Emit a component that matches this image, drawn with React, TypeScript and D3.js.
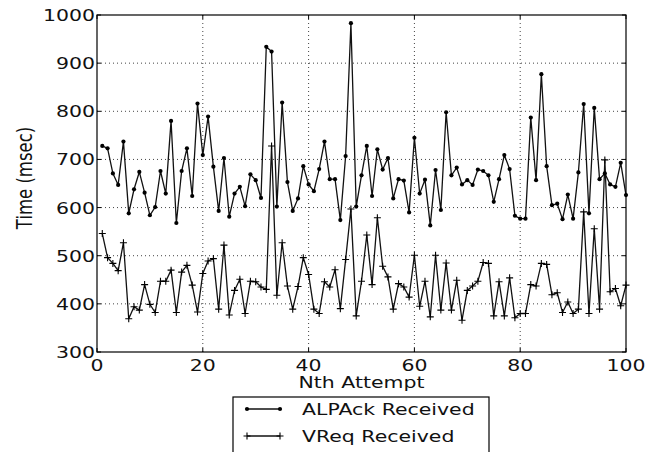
import React from 'react';
import * as d3 from 'd3';

const alpack = [
  728, 723, 671, 647, 737, 588, 638, 674, 631, 584,
  601, 676, 629, 780, 568, 676, 723, 624, 816, 709,
  789, 685, 593, 703, 581, 629, 643, 603, 669, 657,
  620, 934, 924, 602, 818, 653, 593, 619, 686, 648,
  634, 680, 737, 659, 659, 574, 707, 983, 602, 667,
  728, 624, 721, 679, 703, 619, 659, 656, 590, 745,
  629, 658, 563, 678, 595, 798, 667, 683, 648, 657,
  647, 679, 676, 667, 612, 659, 709, 680, 583, 577,
  577, 787, 657, 877, 686, 605, 608, 576, 627, 577,
  673, 815, 588, 807, 659, 671, 648, 643, 693, 626,
];

const vreq = [
  546, 496, 484, 469, 527, 369, 394, 387, 440, 399,
  382, 447, 447, 470, 382, 466, 480, 439, 383, 463,
  489, 494, 389, 522, 377, 428, 451, 380, 447, 446,
  435, 430, 728, 418, 527, 437, 389, 436, 496, 461,
  389, 380, 446, 435, 471, 390, 492, 597, 375, 447,
  543, 440, 579, 478, 456, 389, 442, 435, 414, 501,
  395, 447, 373, 501, 387, 485, 387, 449, 366, 428,
  437, 447, 486, 484, 375, 446, 375, 454, 371, 380,
  380, 440, 437, 484, 482, 419, 423, 382, 404, 380,
  389, 591, 380, 556, 389, 699, 425, 432, 396, 439,
];

const xTicks = [0, 20, 40, 60, 80, 100];
const yTicks = [300, 400, 500, 600, 700, 800, 900, 1000];
const seriesNames = ['ALPAck Received', 'VReq Received'];

const W = 650;
const H = 452;
const left = 97;
const right = 626;
const top = 15;
const bottom = 352;
const FONT = 'DejaVu Sans';
const FS = 16.5;
const SX = 1.24; // the reference is stretched horizontally

const x = d3.scaleLinear().domain([0, 100]).range([left, right]);
const y = d3.scaleLinear().domain([300, 1000]).range([bottom, top]);

const line = d3
  .line<number>()
  .x((_, i) => x(i + 1))
  .y((d) => y(d));

// text drawn with the same horizontal stretch as the picture
const Txt = ({ tx, ty, anchor = 'start', children, rotate = 0 }: any) => (
  <g transform={`translate(${tx},${ty}) rotate(${rotate}) scale(${rotate ? 1 : SX},${rotate ? SX : 1})`}>
    <text fontFamily={FONT} fontSize={FS} textAnchor={anchor} fill="#111">
      {children}
    </text>
  </g>
);

const Dot = ({ cx, cy }: any) => <circle cx={cx} cy={cy} r={2.1} fill="#000" />;
const Plus = ({ cx, cy }: any) => (
  <path d={`M${cx - 3.5},${cy}H${cx + 3.5}M${cx},${cy - 3.5}V${cy + 3.5}`} stroke="#000" strokeWidth={1.1} />
);

export default function App() {
  return (
    <svg
      width={W}
      height={H}
      style={{ position: 'absolute', left: 0, top: 0, background: '#fff' }}
    >
      <rect width={W} height={H} fill="#fff" />
      {/* grid */}
      {yTicks.slice(1, -1).map((t) => (
        <line key={'gy' + t} x1={left} x2={right} y1={y(t)} y2={y(t)} stroke="#444" strokeWidth={1} strokeDasharray="1,3" />
      ))}
      {xTicks.slice(1, -1).map((t) => (
        <line key={'gx' + t} x1={x(t)} x2={x(t)} y1={top} y2={bottom} stroke="#444" strokeWidth={1} strokeDasharray="1,3" />
      ))}
      {/* ticks (inward) */}
      {yTicks.map((t) => (
        <g key={'ty' + t}>
          <line x1={left} x2={left + 4} y1={y(t)} y2={y(t)} stroke="#000" />
          <line x1={right - 4} x2={right} y1={y(t)} y2={y(t)} stroke="#000" />
          <Txt tx={left - 2} ty={y(t) + 6} anchor="end">{t}</Txt>
        </g>
      ))}
      {xTicks.map((t) => (
        <g key={'tx' + t}>
          <line x1={x(t)} x2={x(t)} y1={bottom} y2={bottom - 4} stroke="#000" />
          <line x1={x(t)} x2={x(t)} y1={top} y2={top + 4} stroke="#000" />
          <Txt tx={x(t)} ty={371} anchor="middle">{t}</Txt>
        </g>
      ))}
      {/* series */}
      <path d={line(alpack) || ''} fill="none" stroke="#111" strokeWidth={1.3} />
      <path d={line(vreq) || ''} fill="none" stroke="#111" strokeWidth={1.3} />
      {alpack.map((v, i) => (
        <Dot key={'a' + i} cx={x(i + 1)} cy={y(v)} />
      ))}
      {vreq.map((v, i) => (
        <Plus key={'v' + i} cx={x(i + 1)} cy={y(v)} />
      ))}
      {/* frame */}
      <rect x={left} y={top} width={right - left} height={bottom - top} fill="none" stroke="#000" strokeWidth={1.2} />
      {/* axis labels */}
      <Txt tx={(left + right) / 2} ty={388} anchor="middle">Nth Attempt</Txt>
      <Txt tx={32} ty={178} anchor="middle" rotate={-90}>Time (msec)</Txt>
      {/* legend */}
      <rect x={233} y={397} width={256} height={70} fill="#fff" stroke="#000" strokeWidth={1.2} />
      {seriesNames.map((name, k) => {
        const ly = 409 + k * 27;
        return (
          <g key={name}>
            <line x1={247} x2={280} y1={ly} y2={ly} stroke="#111" strokeWidth={1.3} />
            {k === 0 ? (
              <>
                <Dot cx={247} cy={ly} />
                <Dot cx={280} cy={ly} />
              </>
            ) : (
              <>
                <Plus cx={247} cy={ly} />
                <Plus cx={280} cy={ly} />
              </>
            )}
            <Txt tx={302} ty={ly + 6}>{name}</Txt>
          </g>
        );
      })}
    </svg>
  );
}
